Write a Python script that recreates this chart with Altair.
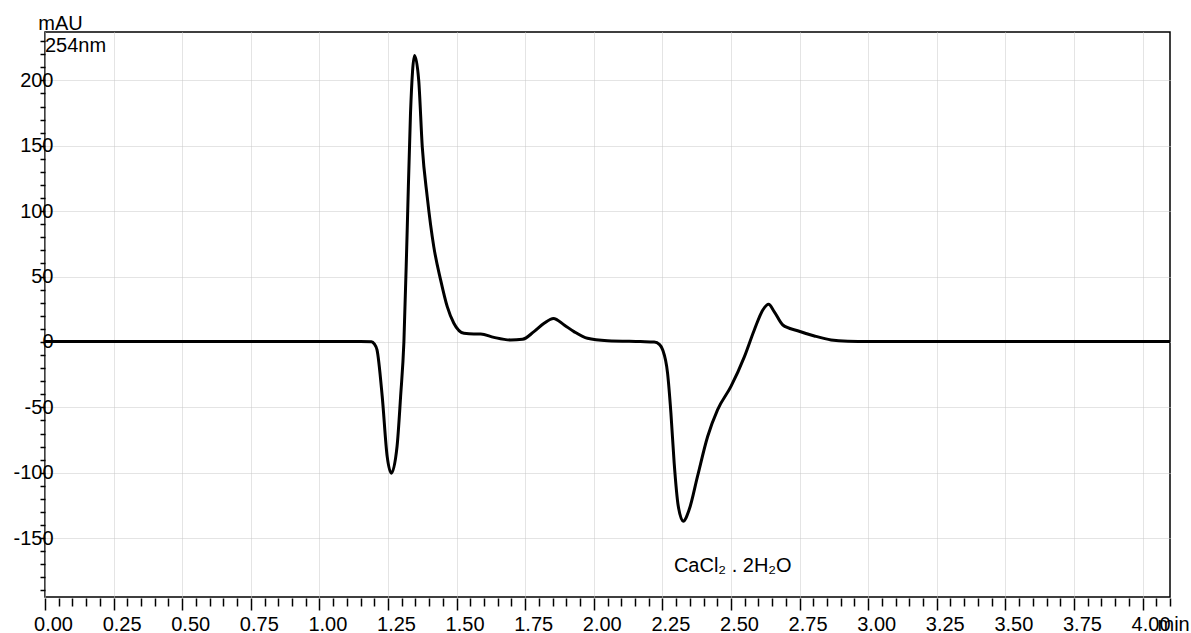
import altair as alt
import pandas as pd

# Chromatogram trace (time in min, absorbance in mAU)
times = [0.00, 0.50, 1.00, 1.15, 1.19, 1.200, 1.21, 1.229, 1.247, 1.262, 1.283, 1.296,
         1.308, 1.320, 1.332, 1.347, 1.362, 1.375, 1.393, 1.417, 1.442, 1.466, 1.490,
         1.527, 1.563, 1.588, 1.636, 1.697, 1.740, 1.782, 1.819, 1.853, 1.892, 1.928,
         1.977, 2.05, 2.17, 2.22, 2.240, 2.251, 2.269, 2.281, 2.293, 2.308, 2.326, 2.348,
         2.378, 2.415, 2.451, 2.50, 2.549, 2.585, 2.616, 2.637, 2.658, 2.689, 2.743,
         2.804, 2.865, 2.926, 3.00, 3.50, 4.10]
mau = [0.3, 0.3, 0.3, 0.3, 0.2, -1.5, -6.0, -41.7, -87.5, -100.3, -79.9, -41.7,
       0.0, 85.5, 174.6, 219.0, 200.0, 149.0, 111.0, 72.7, 47.3, 27.0, 14.3,
       6.6, 6.1, 6.1, 3.5, 1.5, 2.0, 7.9, 14.3, 18.0, 13.0, 7.9,
       2.8, 1.0, 0.3, 0.0, -2.0, -6.0, -24.0, -54.0, -92.6, -125.7, -137.0, -128.0,
       -102.8, -72.3, -51.9, -34.0, -11.2, 9.2, 24.4, 28.8, 23.1, 13.0, 8.6,
       4.6, 1.5, 0.5, 0.3, 0.3, 0.3]

x_ticks = [round(i * 0.05, 2) for i in range(83)]
y_ticks = list(range(-190, 231, 10))

ann_text = ["254nm", "CaCl\u2082 . 2H\u2082O"]
ann_x = [0.0, 2.292]
ann_y = [226.0, -171.0]

df = pd.DataFrame({"t": times, "v": mau})
ann = pd.DataFrame({"label": ann_text, "t": ann_x, "v": ann_y})

FONT = "Liberation Sans"
GRID = "#c8c8c8"

x_scale = alt.Scale(domain=[0, 4.1], nice=False, zero=False)
y_scale = alt.Scale(domain=[-195, 237], nice=False, zero=False)

x_major = "abs(round(datum.value * 4) - datum.value * 4) < 1e-6"
y_major = "datum.value % 50 === 0"

x_axis = alt.Axis(
    values=x_ticks,
    labelExpr=f"({x_major}) ? format(datum.value, '.2f') : ''",
    domain=False,
    offset=1,
    tickSize={"condition": {"test": x_major, "value": 12}, "value": 8},
    tickColor="black",
    tickWidth=1.5,
    labelOffset=8,
    labelPadding=4,
    labelFontSize=20,
    labelFont=FONT,
    labelColor="black",
    labelOverlap=False,
    labelFlush=False,
    grid=True,
    gridColor=GRID,
    gridDash=[1, 1],
    gridWidth=1,
    gridOpacity={"condition": {"test": x_major, "value": 1}, "value": 0},
    title="min",
    titleFont=FONT,
    titleFontSize=20,
    titleFontWeight="normal",
    titleColor="black",
    titleX=1112,
    titleY=26,
    titleAlign="left",
    titleBaseline="middle",
)

y_axis = alt.Axis(
    values=y_ticks,
    labelExpr=f"({y_major}) ? ('' + datum.value) : ''",
    domain=False,
    tickSize=5,
    tickColor="black",
    tickWidth=1.5,
    labelPadding=-13,
    labelFontSize=20,
    labelFont=FONT,
    labelColor="black",
    labelOverlap=False,
    labelFlush=False,
    grid=True,
    gridColor=GRID,
    gridDash=[1, 1],
    gridWidth=1,
    gridOpacity={"condition": {"test": y_major, "value": 1}, "value": 0},
    title="mAU",
    titleFont=FONT,
    titleFontSize=20,
    titleFontWeight="normal",
    titleColor="black",
    titleAngle=0,
    titleX=15,
    titleY=-9,
    titleAlign="center",
    titleBaseline="middle",
)

line = alt.Chart(df).mark_line(
    color="black", strokeWidth=3, interpolate="monotone"
).encode(
    x=alt.X("t:Q", scale=x_scale, axis=x_axis),
    y=alt.Y("v:Q", scale=y_scale, axis=y_axis),
)

labels = alt.Chart(ann).mark_text(
    align="left", baseline="middle", font=FONT, fontSize=20, color="black"
).encode(
    x=alt.X("t:Q", scale=x_scale, axis=x_axis),
    y=alt.Y("v:Q", scale=y_scale, axis=y_axis),
    text="label:N",
)

chart = alt.layer(line, labels).properties(
    width=1125,
    height=565,
    autosize=alt.AutoSizeParams(type="none"),
    padding={"left": 45, "top": 32, "right": 21, "bottom": 36},
    background="white",
).configure_view(stroke="black", strokeWidth=1.5)

chart.save("out.html", embed_options={"renderer": "svg", "actions": False})
